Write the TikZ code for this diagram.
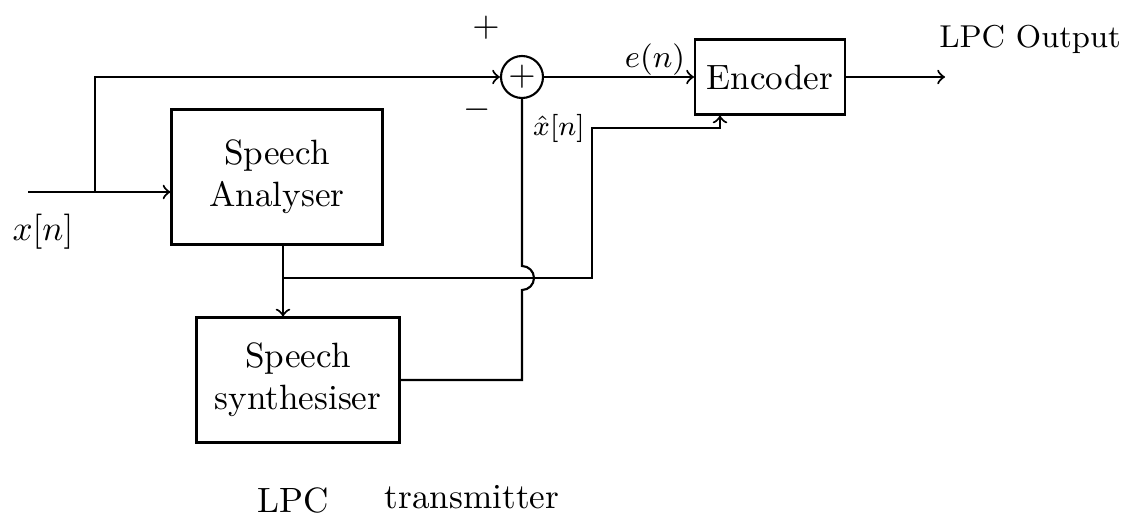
\documentclass[tikz,border=0pt]{standalone}
\usepackage{amsmath}
\usepackage{amssymb}
\usepackage{tikz}
\usetikzlibrary{shapes,arrows,positioning}

\tikzset{
  block/.style={draw, rectangle, align=center},
  adder/.style={draw, circle, minimum size=4.2mm, inner sep=0pt},
}

\begin{document}
\begin{tikzpicture}[x=0.1mm,y=-0.1mm,>=to,semithick]
\useasboundingbox (0,0) rectangle (1130,522);
%
\node[block, minimum width=21.1mm, minimum height=13.5mm] (ana) at (277,177) {Speech\\Analyser};
\node[block, minimum width=20.3mm, minimum height=12.5mm] (syn) at (298,380) {Speech\\synthesiser};
\node[block, minimum width=14.5mm, minimum height=7.5mm] (enc) at (770,77) {Encoder};
\node[adder] (sum) at (522,77) {$+$};
%
\coordinate (in) at (28,192);
\coordinate (br) at (95,192);
\coordinate (split) at (283,278);
\coordinate (xh) at (592,128);
\coordinate (encin) at (720,128);
\coordinate (out) at (945,77);
\coordinate (hop) at (sum.south |- split);
%
\draw[->] (in) -- (in -| ana.west);
\draw[->] (br) |- (sum.west);
\draw[->] (sum.east) -- (enc.west);
\draw[->] (enc.east) -- (out);
\draw[->] (split |- ana.south) -- (split |- syn.north);
\draw[->] (split) -| (xh) -- (encin) -- (encin |- enc.south);
\draw (syn.east) -| ([yshift=-1.2mm]hop) arc[start angle=-90, end angle=90, radius=1.2mm] -- (sum.south);
%
\node at (43,232) {$x[n]$};
\node at (486,28) {$+$};
\node at (477,110) {$-$};
\node[inner sep=0pt] at (655,60) {\small $e(n)$};
\node[inner sep=0pt] at (559,128) {\footnotesize $\hat{x}[n]$};
\node at (1030,39) {\small LPC Output};
\node at (293,500) {LPC};
\node at (472,497) {transmitter};
\end{tikzpicture}
\end{document}
